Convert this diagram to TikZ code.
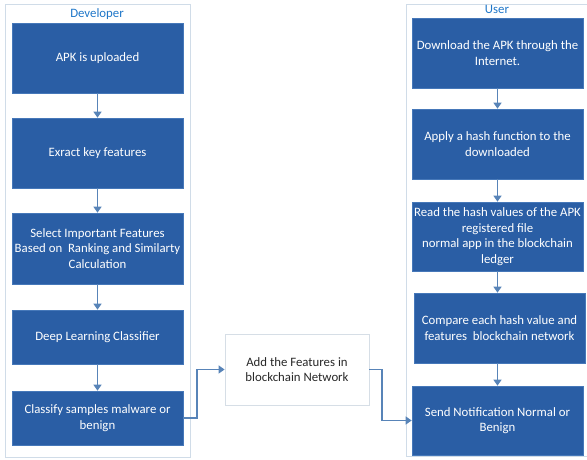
\documentclass[tikz,border=0pt]{standalone}
\usepackage{fontspec}
\setmainfont{Carlito}
\usetikzlibrary{arrows.meta}
\definecolor{boxblue}{RGB}{42,94,165}
\definecolor{boxedge}{RGB}{70,120,185}
\definecolor{linkblue}{RGB}{88,132,184}
\definecolor{frame}{RGB}{208,220,232}
\definecolor{titleblue}{RGB}{30,118,200}
\definecolor{midedge}{RGB}{214,222,230}
\definecolor{midtext}{RGB}{40,40,40}
\tikzset{
  bx/.style={draw=boxedge, line width=0.5pt, fill=boxblue, text=white, align=center,
    font=\fontsize{9.6}{11.6}\selectfont, inner sep=1pt},
  midbox/.style={draw=midedge, line width=0.6pt, fill=white, text=midtext, align=center,
    font=\fontsize{9.6}{11.6}\selectfont, inner sep=1pt},
  lane/.style={draw=frame, line width=0.7pt},
  lanetitle/.style={text=titleblue, font=\fontsize{9.6}{11}\selectfont, inner sep=0pt},
  link/.style={draw=linkblue, line width=1.1pt, -{Triangle[width=6pt,length=4.5pt]}}
}
\begin{document}
\begin{tikzpicture}[x=0.75pt,y=-0.75pt]
\useasboundingbox (0,0) rectangle (587,460);
% lanes
\draw[lane] (5,4) rectangle (190,457);
\draw[lane] (406,4) rectangle (592,456);
\node[lanetitle] (tdev) at (97,14) {Developer};
\node[lanetitle] (tuser) at (497,9) {User};
% developer boxes
\node[bx, minimum width=128.25pt, minimum height=52.5pt] (d1) at (97.5,58) {APK is uploaded};
\node[bx, minimum width=128.25pt, minimum height=52.5pt] (d2) at (97.5,153) {Exract key features};
\node[bx, minimum width=128.25pt, minimum height=53.25pt] (d3) at (97.5,248.5) {Select Important Features\\Based on\ \ Ranking and Similarty\\Calculation};
\node[bx, minimum width=128.25pt, minimum height=40.5pt] (d4) at (97.5,337) {Deep Learning Classifier};
\node[bx, minimum width=128.25pt, minimum height=40.5pt] (d5) at (97.5,418) {Classify samples malware or\\benign};
% middle
\node[midbox, minimum width=108pt, minimum height=53.25pt] (m) at (297,369.5) {Add the Features in\\blockchain Network};
% user boxes
\node[bx, minimum width=128.25pt, minimum height=52.5pt] (u1) at (497.5,53) {Download the APK through the\\Internet.};
\node[bx, minimum width=128.25pt, minimum height=52.5pt] (u2) at (497.5,144) {Apply a hash function to the\\downloaded};
\node[bx, minimum width=128.25pt, minimum height=51.75pt] (u3) at (497.5,236.5) {Read the hash values of the APK\\registered file\\normal app in the blockchain\\ledger};
\node[bx, minimum width=128.25pt, minimum height=52.5pt] (u4) at (499.5,328) {Compare each hash value and\\features\ \ blockchain network};
\node[bx, minimum width=128.25pt, minimum height=51.75pt] (u5) at (497.5,420.5) {Send Notification Normal or\\Benign};
% links
\draw[link] (d1) -- (d2);
\draw[link] (d2) -- (d3);
\draw[link] (d3) -- (d4);
\draw[link] (d4) -- (d5);
\draw[link] (u1) -- (u2);
\draw[link] (u2) -- (u3);
\draw[link] (u3.south) -- (u3.south |- u4.north);
\draw[link] (u4.south -| u5.north) -- (u5.north);
\draw[link] (d5.east) -- (197,418) |- (m.west);
\draw[link] (m.east) -- (382,369.5) |- (u5.west);
\end{tikzpicture}
\end{document}
